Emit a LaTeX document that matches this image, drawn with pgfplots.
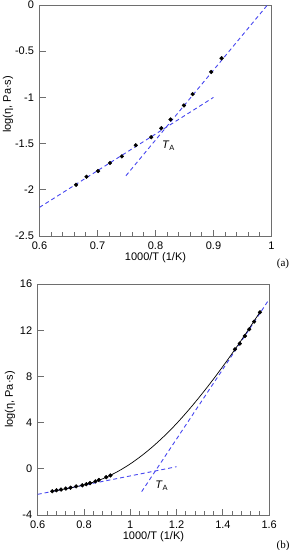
\documentclass[border=0pt]{standalone}
\usepackage{pgfplots}
\pgfplotsset{compat=1.18}
\usepackage{fontspec}
\setmainfont{Liberation Sans}
\newfontfamily\seriffont{Liberation Serif}
\definecolor{dashblue}{RGB}{70,70,240}
\definecolor{axgray}{RGB}{110,110,110}

\pgfplotstableread{
x y
0.663 -1.946
0.681 -1.859
0.701 -1.797
0.7215 -1.710
0.742 -1.638
0.766 -1.518
0.7926 -1.431
0.810 -1.333
0.826 -1.239
0.849 -1.087
0.864 -0.964
0.896 -0.725
0.914 -0.576
}\dataA

\pgfplotstableread{
x y
0.663 -1.946
0.681 -1.859
0.701 -1.797
0.7215 -1.710
0.742 -1.638
0.766 -1.518
0.7926 -1.431
0.810 -1.333
0.826 -1.239
0.849 -1.087
0.864 -0.964
0.896 -0.725
0.914 -0.576
1.452 10.35
1.473 10.84
1.495 11.50
1.514 12.08
1.535 12.74
1.560 13.55
}\dataB

\pgfplotsset{
 myax/.style={
  scale only axis, width=232pt, height=231pt,
  axis line style={axgray, line width=0.9pt},
  every tick/.style={axgray, line width=0.9pt},
  tick align=inside,
  xtick pos=bottom, ytick pos=left,
  major tick length=6pt, minor tick length=4pt,
  minor x tick num=4,
  tick label style={font=\fontsize{11}{13}\selectfont},
  label style={font=\fontsize{11}{13}\selectfont},
  /pgf/number format/assume math mode=true,
  xticklabel shift=2.5pt,
  yticklabel shift=2pt,
  xlabel style={at={(axis description cs:0.5,-0.095)}, anchor=center},
  clip=true,
 },
 dl/.style={dashblue, dash pattern=on 4pt off 3pt, line width=0.9pt},
 pts/.style={only marks, mark=*, mark size=1.9pt, black},
}

\begin{document}
\begin{tikzpicture}
\useasboundingbox (0,0) rectangle (295pt,550pt);
% top panel (a)
\begin{axis}[myax,
  at={(39.5pt,314pt)}, anchor=south west,
  xmin=0.6, xmax=1, ymin=-2.5, ymax=0,
  xtick={0.6,0.7,0.8,0.9,1},
  ytick={-2.5,-2,-1.5,-1,-0.5,0},
  xlabel={1000/T (1/K)},
  ylabel={log(η, Pa·s)},
  ylabel style={at={(axis description cs:-0.136,0.57)}, anchor=center},
]
\addplot[dl] coordinates {(0.6,-2.19) (0.9,-1.0)};
\addplot[dl] coordinates {(0.749,-1.848) (0.993,0)};
\addplot[pts] table[x=x,y=y] {\dataA};
\node at (axis cs:0.822,-1.52) {\fontsize{11}{13}\selectfont\itshape T\/\raisebox{-0.35ex}{\upshape\fontsize{7.5}{8}\selectfont A}};
\end{axis}
\node[font=\seriffont\fontsize{11}{13}\selectfont] at (283pt,286pt) {(a)};
% bottom panel (b)
\begin{axis}[myax,
  at={(37.7pt,35pt)}, anchor=south west,
  width=231.5pt,
  xmin=0.6, xmax=1.6, ymin=-4, ymax=16,
  xtick={0.6,0.8,1,1.2,1.4,1.6},
  ytick={-4,0,4,8,12,16},
  xlabel={1000/T (1/K)},
  ylabel={log(η, Pa·s)},
  ylabel style={at={(axis description cs:-0.12,0.5)}, anchor=center},
]
\addplot[dl] coordinates {(0.6,-2.21) (1.2,0.18)};
\addplot[dl] coordinates {(1.049,-1.98) (1.596,14.56)};
\addplot[black, smooth, line width=0.7pt] coordinates {
(0.663,-1.946) (0.70,-1.813) (0.75,-1.613) (0.80,-1.398) (0.85,-1.098) (0.90,-0.698)
(0.95,-0.188) (1.0,0.427) (1.05,1.15) (1.1,1.975) (1.15,2.90) (1.2,3.92)
(1.25,5.045) (1.3,6.25) (1.35,7.525) (1.4,8.87) (1.45,10.275) (1.5,11.74) (1.56,13.57)};
\addplot[pts] table[x=x,y=y] {\dataB};
\node at (axis cs:1.135,-1.49) {\fontsize{11}{13}\selectfont\itshape T\/\raisebox{-0.35ex}{\upshape\fontsize{7.5}{8}\selectfont A}};
\end{axis}
\node[font=\seriffont\fontsize{11}{13}\selectfont] at (283pt,4pt) {(b)};
\end{tikzpicture}
\end{document}
